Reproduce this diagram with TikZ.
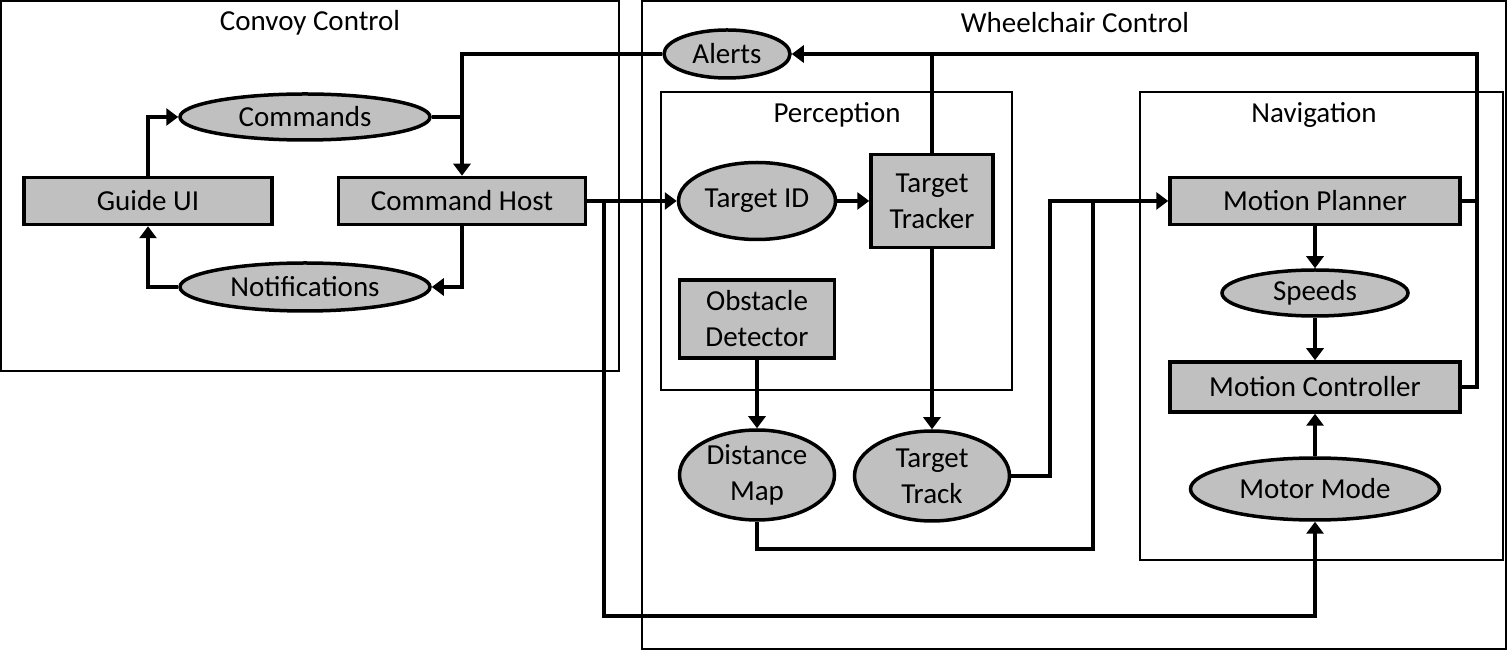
\documentclass[tikz,border=0pt]{standalone}
\usepackage{fontspec}
\setmainfont{Carlito}
\usetikzlibrary{shapes.geometric,arrows.meta,calc}
\begin{document}
\begin{tikzpicture}[x=0.5pt,y=-0.5pt,
  every node/.style={font=\fontsize{14.5}{18}\selectfont},
  proc/.style={rectangle,draw,line width=1.75pt,fill={rgb,255:red,192;green,192;blue,192},inner sep=0pt,align=center},
  datum/.style={ellipse,draw,line width=1.75pt,fill={rgb,255:red,192;green,192;blue,192},inner sep=0pt,align=center},
  frame/.style={draw,line width=1.4pt},
  wire/.style={line width=1.8pt},
  conn/.style={line width=1.8pt,-{Triangle[length=6pt,width=8.5pt]}},
  title/.style={inner sep=0pt}
]
\useasboundingbox (0,0) rectangle (1509,651);
% frames
\draw[frame] (1,1) rectangle (619,371);
\draw[frame] (642,1) rectangle (1506,649);
\draw[frame] (661,92) rectangle (1012,390);
\draw[frame] (1140,92) rectangle (1503,560);
\node[title] (tconvoy) at (310,23) {Convoy Control};
\node[title] (twheel) at (1075,23) {Wheelchair Control};
\node[title] (tperc) at (837,115) {Perception};
\node[title] (tnav) at (1314,115) {Navigation};
% nodes
\node[datum,minimum width=125pt,minimum height=23pt] (cmds) at (305,117) {Commands};
\node[proc,minimum width=124pt,minimum height=23.5pt] (gui) at (148,201) {Guide UI};
\node[proc,minimum width=123.5pt,minimum height=23.5pt] (host) at (462,201) {Command Host};
\node[datum,minimum width=125pt,minimum height=24pt] (notif) at (305,287) {Notifications};
\node[datum,minimum width=63pt,minimum height=24pt] (alerts) at (727,54) {Alerts};
\node[datum,minimum width=78.5pt,minimum height=38.5pt] (tid) at (757,201) {Target ID};
\node[proc,minimum width=61pt,minimum height=46.5pt] (tracker) at (932,201) {Target\\Tracker};
\node[proc,minimum width=77.5pt,minimum height=39pt] (obst) at (757,319) {Obstacle\\Detector};
\node[datum,minimum width=77.5pt,minimum height=45pt] (dmap) at (757,475) {Distance\\Map};
\node[datum,minimum width=77.5pt,minimum height=45pt] (ttrack) at (932,476) {Target\\Track};
\node[proc,minimum width=145pt,minimum height=23.5pt] (mp) at (1315,201) {Motion Planner};
\node[datum,minimum width=93pt,minimum height=23pt] (speeds) at (1315,293) {Speeds};
\node[proc,minimum width=145pt,minimum height=25pt] (mc) at (1315,387) {Motion Controller};
\node[datum,minimum width=124.5pt,minimum height=31pt] (mm) at (1315,489) {Motor Mode};
% convoy connectors
\draw[conn] (gui.north) |- (cmds.west);
\draw[conn] (notif.west) -| (gui.south);
\draw[conn] (alerts.west) -| (host.north);
\draw[wire] (cmds.east) -- (cmds.east -| host.north);
\draw[conn] (host.south) |- (notif.east);
% host to wheelchair
\draw[conn] (host.east) -- (tid.west);
\coordinate (hbend) at (604,616);
\draw[conn] (host.east) -| (hbend) -| (mm.south);
% perception
\draw[conn] (tid.east) -- (tracker.west);
\draw[conn] (tracker.south) -- (ttrack.north);
\draw[conn] (obst.south) -- (dmap.north);
\coordinate (rbus) at (1477,54);
\draw[conn] (mc.east) -| (rbus) -- (alerts.east);
\draw[wire] (mp.east) -- (mp.east -| rbus);
\draw[wire] (tracker.north) -- (tracker.north |- alerts.east);
% to navigation
\coordinate (ttbend) at (1050,476);
\draw[conn] (ttrack.east) -- (ttbend) |- (mp.west);
\coordinate (dmbend) at (1093,549);
\draw[wire] (dmap.south) |- (dmbend) -- (dmbend |- mp.west);
% navigation
\draw[conn] (mp.south) -- (speeds.north);
\draw[conn] (speeds.south) -- (mc.north);
\draw[conn] (mm.north) -- (mc.south);
\end{tikzpicture}
\end{document}
